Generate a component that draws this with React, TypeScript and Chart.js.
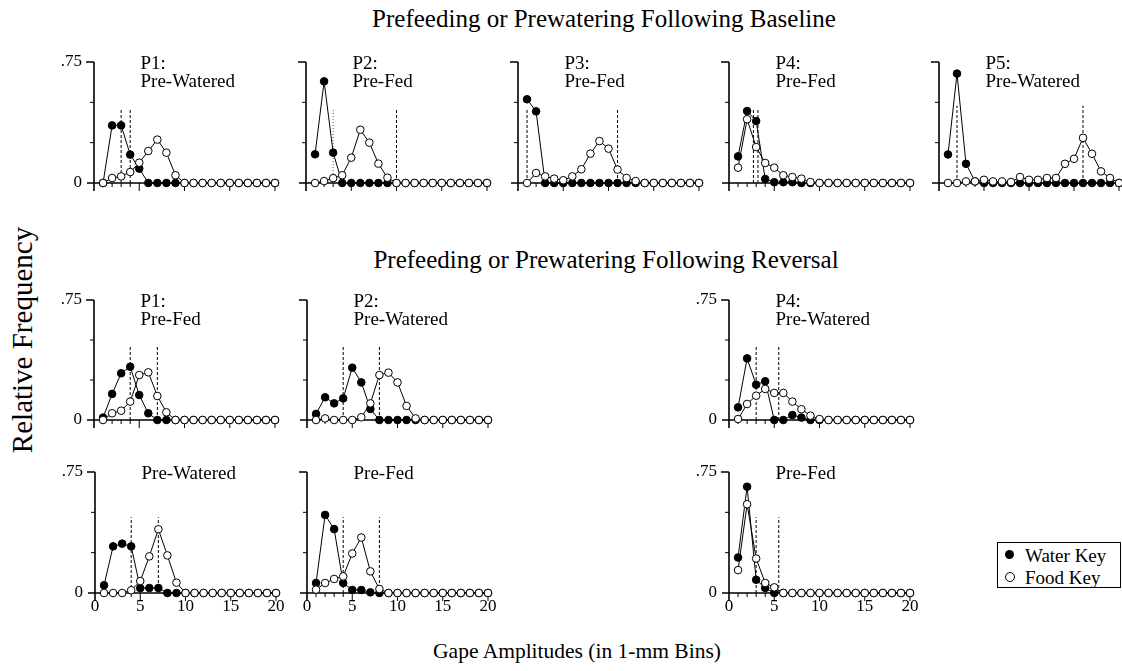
import React, { useEffect, useRef } from "react";
import { Chart, registerables } from "chart.js";

Chart.register(...registerables);

const FONT = '"Liberation Serif", "Times New Roman", serif';

// ---------- data ----------
const bins = [1, 2, 3, 4, 5, 6, 7, 8, 9, 10, 11, 12, 13, 14, 15, 16, 17, 18, 19, 20];
const yTickValues = [0, 0.25, 0.5, 0.75];
const xTickValues = [0, 5, 10, 15, 20];
const xMinorTickValues = [1, 2, 3, 4];

// Prefeeding or Prewatering Following Baseline
const baseP1Water = [0, 0.357, 0.357, 0.176, 0.089, 0, 0, 0, 0, 0, 0, 0, 0, 0, 0, 0, 0, 0, 0, 0];
const baseP1Food = [0, 0.031, 0.041, 0.068, 0.126, 0.198, 0.269, 0.188, 0.048, 0, 0, 0, 0, 0, 0, 0, 0, 0, 0, 0];
const baseP1Medians = [3, 4];
const baseP1Label = ["P1:", "Pre-Watered"];

const baseP2Water = [0.178, 0.63, 0.188, 0, 0, 0, 0, 0, 0, 0, 0, 0, 0, 0, 0, 0, 0, 0, 0, 0];
const baseP2Food = [0, 0.012, 0.03, 0.048, 0.157, 0.33, 0.25, 0.12, 0.033, 0, 0, 0, 0, 0, 0, 0, 0, 0, 0, 0];
const baseP2Medians = [3, 10];
const baseP2Label = ["P2:", "Pre-Fed"];

const baseP3Water = [0.519, 0.444, 0, 0, 0, 0, 0, 0, 0, 0, 0, 0, 0, 0, 0, 0, 0, 0, 0, 0];
const baseP3Food = [0, 0.062, 0.041, 0.027, 0.017, 0.041, 0.085, 0.182, 0.26, 0.213, 0.083, 0.031, 0.012, 0, 0, 0, 0, 0, 0, 0];
const baseP3Medians = [1, 11];
const baseP3Label = ["P3:", "Pre-Fed"];

const baseP4Water = [0.165, 0.446, 0.384, 0.025, 0.005, 0.005, 0.005, 0, 0, 0, 0, 0, 0, 0, 0, 0, 0, 0, 0, 0];
const baseP4Food = [0.095, 0.395, 0.223, 0.124, 0.095, 0.048, 0.037, 0.027, 0.006, 0, 0, 0, 0, 0, 0, 0, 0, 0, 0, 0];
const baseP4Medians = [2.7, 3.2];
const baseP4Label = ["P4:", "Pre-Fed"];

const baseP5Water = [0.177, 0.678, 0.119, 0.01, 0, 0, 0, 0, 0, 0, 0, 0, 0, 0, 0, 0, 0, 0, 0, 0];
const baseP5Food = [0, 0, 0.01, 0.01, 0.02, 0.01, 0.01, 0.006, 0.037, 0.02, 0.02, 0.031, 0.031, 0.119, 0.15, 0.28, 0.181, 0.072, 0.031, 0];
const baseP5Medians = [2, 16];
const baseP5Label = ["P5:", "Pre-Watered"];

// Prefeeding or Prewatering Following Reversal (first test)
const revP1Water = [0.015, 0.163, 0.292, 0.333, 0.156, 0.042, 0, 0, 0, 0, 0, 0, 0, 0, 0, 0, 0, 0, 0, 0];
const revP1Food = [0, 0.042, 0.058, 0.115, 0.281, 0.298, 0.15, 0.048, 0, 0, 0, 0, 0, 0, 0, 0, 0, 0, 0, 0];
const revP1Medians = [4, 7];
const revP1Label = ["P1:", "Pre-Fed"];

const revP2Water = [0.038, 0.142, 0.104, 0.135, 0.327, 0.235, 0.069, 0, 0, 0, 0, 0, 0, 0, 0, 0, 0, 0, 0, 0];
const revP2Food = [0, 0.01, 0, 0, 0, 0.017, 0.104, 0.281, 0.296, 0.235, 0.088, 0.01, 0, 0, 0, 0, 0, 0, 0, 0];
const revP2Medians = [4, 8];
const revP2Label = ["P2:", "Pre-Watered"];

const revP4Water = [0.079, 0.385, 0.221, 0.242, 0, 0, 0.031, 0.015, 0, 0, 0, 0, 0, 0, 0, 0, 0, 0, 0, 0];
const revP4Food = [0.006, 0.1, 0.152, 0.194, 0.169, 0.169, 0.115, 0.067, 0.027, 0.006, 0, 0, 0, 0, 0, 0, 0, 0, 0, 0];
const revP4Medians = [3, 5.5];
const revP4Label = ["P4:", "Pre-Watered"];

// Reversal (second test)
const rev2P1Water = [0.048, 0.289, 0.306, 0.289, 0.03, 0.031, 0.031, 0, 0, 0, 0, 0, 0, 0, 0, 0, 0, 0, 0, 0];
const rev2P1Food = [0, 0, 0, 0.017, 0.074, 0.227, 0.395, 0.233, 0.064, 0, 0, 0, 0, 0, 0, 0, 0, 0, 0, 0];
const rev2P1Medians = [4, 7];
const rev2P1Label = ["Pre-Watered"];

const rev2P2Water = [0.062, 0.484, 0.396, 0.062, 0.019, 0.019, 0.004, 0, 0, 0, 0, 0, 0, 0, 0, 0, 0, 0, 0, 0];
const rev2P2Food = [0.021, 0.062, 0.087, 0.103, 0.245, 0.344, 0.134, 0.025, 0, 0, 0, 0, 0, 0, 0, 0, 0, 0, 0, 0];
const rev2P2Medians = [4, 8];
const rev2P2Label = ["Pre-Fed"];

const rev2P4Water = [0.22, 0.659, 0.082, 0.031, 0, 0, 0, 0, 0, 0, 0, 0, 0, 0, 0, 0, 0, 0, 0, 0];
const rev2P4Food = [0.142, 0.55, 0.214, 0.062, 0.035, 0, 0, 0, 0, 0, 0, 0, 0, 0, 0, 0, 0, 0, 0, 0];
const rev2P4Medians = [3, 5.5];
const rev2P4Label = ["Pre-Fed"];

const titleBaseline = "Prefeeding or Prewatering Following Baseline";
const titleReversal = "Prefeeding or Prewatering Following Reversal";
const yTitle = "Relative Frequency";
const xTitle = "Gape Amplitudes (in 1-mm Bins)";
const legendLabels = ["Water Key", "Food Key"];

// ---------- layout (positions only) ----------
type PanelSpec = {
  water: number[];
  food: number[];
  medians: number[];
  label: string[];
  x0: number;
  yTop: number;
  plotH: number;
  unit: number;
  yLabels: boolean;
  xLabels: boolean;
  dottedFirst?: boolean;
  dashTop: number;
};

const panels: PanelSpec[] = [
  { water: baseP1Water, food: baseP1Food, medians: baseP1Medians, label: baseP1Label, x0: 94, yTop: 62, plotH: 121, unit: 9.05, yLabels: true, xLabels: false, dashTop: 0.46 },
  { water: baseP2Water, food: baseP2Food, medians: baseP2Medians, label: baseP2Label, x0: 306, yTop: 62, plotH: 121, unit: 9.05, yLabels: false, xLabels: false, dottedFirst: true, dashTop: 0.46 },
  { water: baseP3Water, food: baseP3Food, medians: baseP3Medians, label: baseP3Label, x0: 518, yTop: 62, plotH: 121, unit: 9.05, yLabels: false, xLabels: false, dashTop: 0.46 },
  { water: baseP4Water, food: baseP4Food, medians: baseP4Medians, label: baseP4Label, x0: 729, yTop: 62, plotH: 121, unit: 9.05, yLabels: false, xLabels: false, dashTop: 0.46 },
  { water: baseP5Water, food: baseP5Food, medians: baseP5Medians, label: baseP5Label, x0: 939, yTop: 62, plotH: 121, unit: 9.0, yLabels: false, xLabels: false, dashTop: 0.48 },
  { water: revP1Water, food: revP1Food, medians: revP1Medians, label: revP1Label, x0: 94, yTop: 300, plotH: 120, unit: 9.05, yLabels: true, xLabels: false, dashTop: 0.46 },
  { water: revP2Water, food: revP2Food, medians: revP2Medians, label: revP2Label, x0: 307, yTop: 300, plotH: 120, unit: 9.05, yLabels: false, xLabels: false, dashTop: 0.46 },
  { water: revP4Water, food: revP4Food, medians: revP4Medians, label: revP4Label, x0: 729, yTop: 300, plotH: 120, unit: 9.05, yLabels: true, xLabels: false, dashTop: 0.46 },
  { water: rev2P1Water, food: rev2P1Food, medians: rev2P1Medians, label: rev2P1Label, x0: 95, yTop: 472, plotH: 121, unit: 9.05, yLabels: true, xLabels: true, dashTop: 0.47 },
  { water: rev2P2Water, food: rev2P2Food, medians: rev2P2Medians, label: rev2P2Label, x0: 307, yTop: 472, plotH: 121, unit: 9.05, yLabels: false, xLabels: true, dashTop: 0.47 },
  { water: rev2P4Water, food: rev2P4Food, medians: rev2P4Medians, label: rev2P4Label, x0: 729, yTop: 472, plotH: 121, unit: 9.05, yLabels: true, xLabels: true, dashTop: 0.47 },
];

const L = 50;
const T = 30;
const B = 30;
const R = 14;

const axesPlugin = {
  id: "panelAxes",
  beforeDatasetsDraw(chart: any) {
    const { ctx } = chart;
    const x = chart.scales.x;
    const y = chart.scales.y;
    const x0 = x.getPixelForValue(0);
    const x20 = x.getPixelForValue(20);
    const y0 = y.getPixelForValue(0);
    const y75 = y.getPixelForValue(0.75);
    ctx.save();
    ctx.strokeStyle = "#000";
    ctx.lineWidth = 1.6;
    ctx.beginPath();
    ctx.moveTo(x0, y0 + 8);
    ctx.lineTo(x0, y75);
    ctx.moveTo(x0 - 7, y0);
    ctx.lineTo(x20, y0);
    ctx.moveTo(x0 - 8, y75);
    ctx.lineTo(x0, y75);
    ctx.stroke();
    ctx.lineWidth = 1;
    ctx.beginPath();
    for (const v of [0.25, 0.5]) {
      const p = y.getPixelForValue(v);
      ctx.moveTo(x0 - 4, p);
      ctx.lineTo(x0, p);
    }
    for (const v of xTickValues) {
      if (v === 0) continue;
      const p = x.getPixelForValue(v);
      ctx.moveTo(p, y0);
      ctx.lineTo(p, y0 + 8);
    }
    for (const v of xMinorTickValues) {
      const p = x.getPixelForValue(v);
      ctx.moveTo(p, y0);
      ctx.lineTo(p, y0 + 4);
    }
    ctx.stroke();
    ctx.restore();
  },
  afterDraw(chart: any) {
    const lines: string[] = chart.options.plugins.panelAxes?.lines || [];
    const { ctx } = chart;
    const x0 = chart.scales.x.getPixelForValue(0);
    const y75 = chart.scales.y.getPixelForValue(0.75);
    ctx.save();
    ctx.fillStyle = "#000";
    ctx.font = `19px ${FONT}`;
    ctx.textBaseline = "alphabetic";
    ctx.textAlign = "left";
    lines.forEach((t, i) => {
      ctx.fillText(t, x0 + 46.5, y75 + 6.5 + i * 18.5);
    });
    ctx.restore();
  },
};

function Panel({ spec }: { spec: PanelSpec }) {
  const ref = useRef<HTMLCanvasElement>(null);
  const plotW = spec.unit * 20;
  const width = Math.round(L + plotW + R);
  const height = T + spec.plotH + B;

  useEffect(() => {
    if (!ref.current) return;
    const medianSets = spec.medians.map((m, i) => {
      const dotted = spec.dottedFirst && i === 0;
      return {
        type: "line" as const,
        data: [
          { x: m, y: 0 },
          { x: m, y: spec.dashTop },
        ],
        borderColor: dotted ? "#555" : "#000",
        borderWidth: 1,
        borderDash: dotted ? [1, 2] : [3, 2],
        pointRadius: 0,
        order: 3,
        clip: false as any,
      };
    });
    const chart = new Chart(ref.current, {
      type: "line",
      data: {
        datasets: [
          {
            label: legendLabels[1],
            data: bins.map((b, i) => ({ x: b, y: spec.food[i] })),
            borderColor: "#000",
            borderWidth: 1,
            pointRadius: 3.8,
            pointBackgroundColor: "#fff",
            pointBorderColor: "#000",
            pointBorderWidth: 1,
            order: 1,
            clip: false as any,
          },
          {
            label: legendLabels[0],
            data: bins.map((b, i) => ({ x: b, y: spec.water[i] })),
            borderColor: "#000",
            borderWidth: 1,
            pointRadius: 3.8,
            pointBackgroundColor: "#000",
            pointBorderColor: "#000",
            pointBorderWidth: 1,
            order: 2,
            clip: false as any,
          },
          ...medianSets,
        ] as any,
      },
      options: {
        responsive: false,
        animation: false,
        events: [],
        layout: { padding: { left: 0, top: T, right: width - L - plotW, bottom: 0 } },
        plugins: {
          legend: { display: false },
          tooltip: { enabled: false },
          panelAxes: { lines: spec.label },
        } as any,
        scales: {
          x: {
            type: "linear",
            min: 0,
            max: 20,
            afterBuildTicks: (s: any) => {
              s.ticks = xTickValues.map((v) => ({ value: v }));
            },
            afterFit: (s: any) => {
              s.height = B;
            },
            grid: { display: false, drawTicks: false },
            border: { display: false },
            ticks: {
              display: spec.xLabels,
              padding: 3,
              color: "#000",
              maxRotation: 0,
              autoSkip: false,
              font: { family: FONT, size: 17 },
              callback: (v: any) => String(v),
            },
          },
          y: {
            type: "linear",
            min: 0,
            max: 0.75,
            afterBuildTicks: (s: any) => {
              s.ticks = yTickValues.map((v) => ({ value: v }));
            },
            afterFit: (s: any) => {
              s.width = L;
            },
            grid: { display: false, drawTicks: false },
            border: { display: false },
            ticks: {
              display: spec.yLabels,
              padding: 12,
              color: "#000",
              font: { family: FONT, size: 17 },
              callback: (v: any) => (v === 0.75 ? ".75" : v === 0 ? "0" : ""),
            },
          },
        },
      } as any,
      plugins: [axesPlugin],
    });
    return () => chart.destroy();
  }, []);

  return (
    <canvas
      ref={ref}
      width={width}
      height={height}
      style={{ position: "absolute", left: Math.round(spec.x0) - L, top: spec.yTop - T, width, height }}
    />
  );
}

export default function App() {
  const text: React.CSSProperties = { position: "absolute", fontFamily: FONT, color: "#000", whiteSpace: "nowrap", lineHeight: 1 };
  return (
    <div style={{ position: "absolute", left: 0, top: 0, width: 1122, height: 671, overflow: "hidden", background: "#fff" }}>
      <div style={{ ...text, left: 604, top: 18, fontSize: 25, transform: "translate(-50%, -50%)" }}>{titleBaseline}</div>
      <div style={{ ...text, left: 606, top: 259, fontSize: 25, transform: "translate(-50%, -50%)" }}>{titleReversal}</div>
      <div style={{ ...text, left: 22, top: 340, fontSize: 29, transform: "translate(-50%, -50%) rotate(-90deg)" }}>{yTitle}</div>
      <div style={{ ...text, left: 577, top: 652, fontSize: 21.5, transform: "translate(-50%, -50%)" }}>{xTitle}</div>
      {panels.map((p, i) => (
        <Panel key={i} spec={p} />
      ))}
      <div style={{ position: "absolute", left: 997, top: 542, width: 122, height: 44, border: "1px solid #000" }}>
        <div style={{ position: "absolute", left: 7, top: 7, width: 9, height: 9, borderRadius: "50%", background: "#000" }} />
        <div style={{ ...text, left: 27, top: 3, fontSize: 19 }}>{legendLabels[0]}</div>
        <div style={{ position: "absolute", left: 7, top: 29, width: 8, height: 8, borderRadius: "50%", border: "1px solid #000", background: "#fff" }} />
        <div style={{ ...text, left: 27, top: 25, fontSize: 19 }}>{legendLabels[1]}</div>
      </div>
    </div>
  );
}
